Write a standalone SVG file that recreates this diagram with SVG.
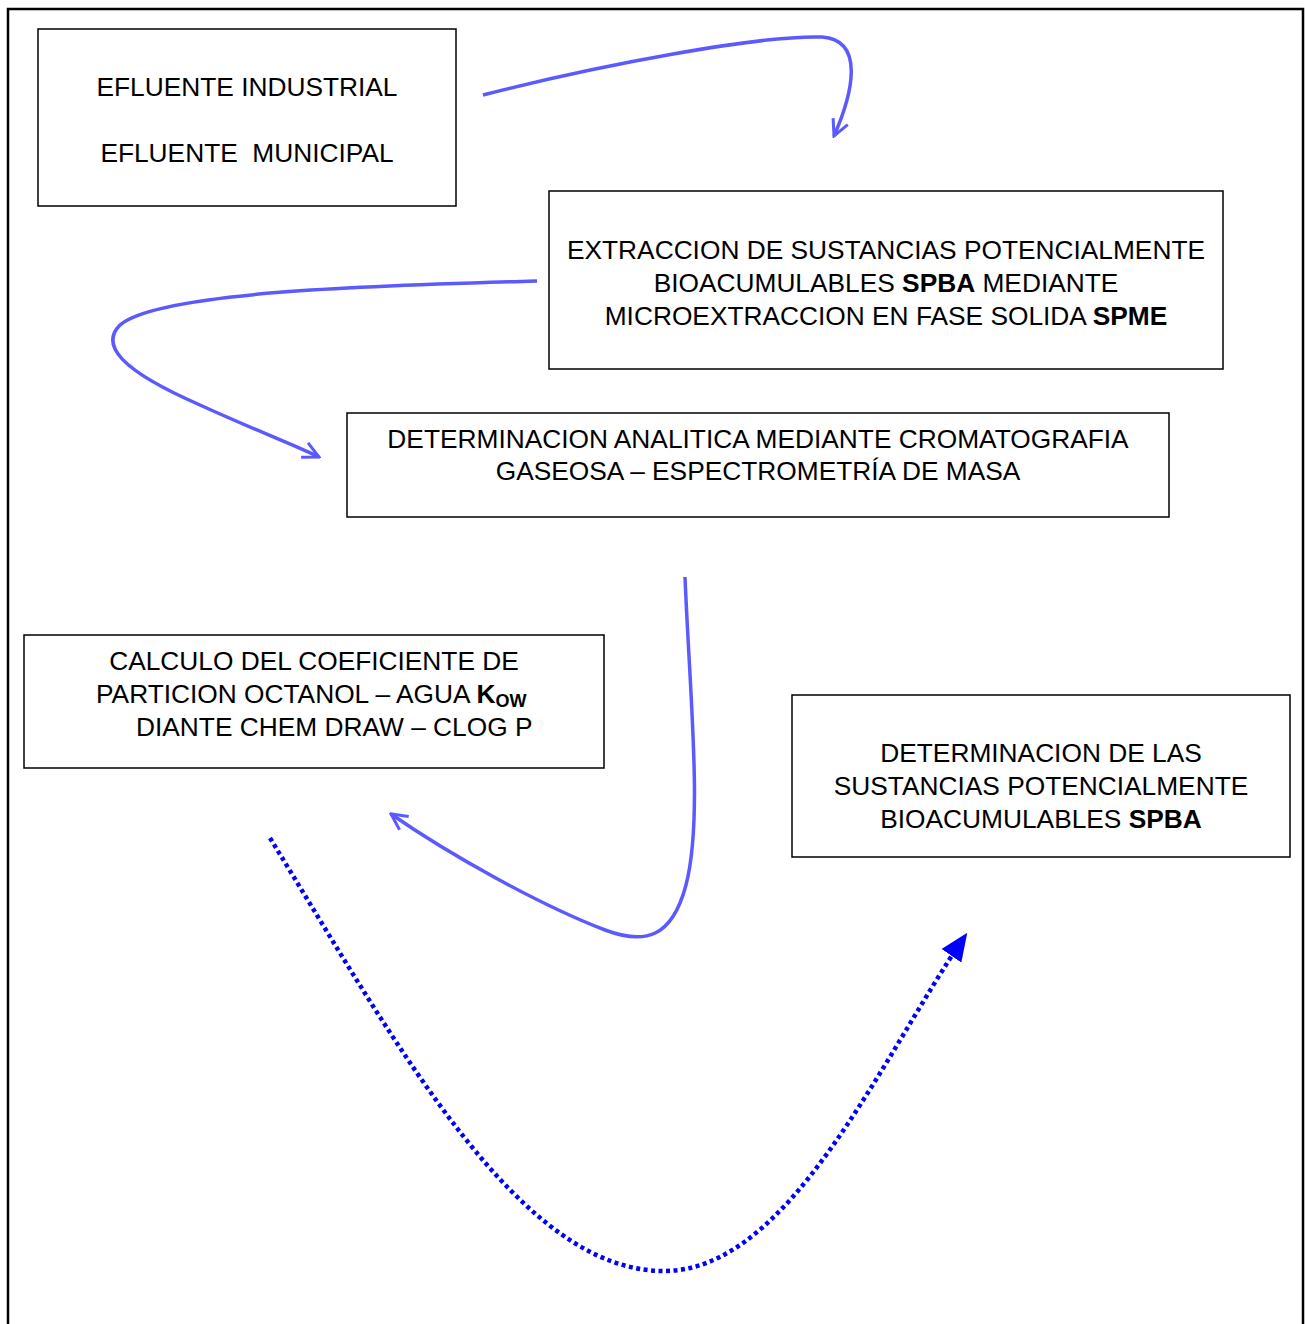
<svg xmlns="http://www.w3.org/2000/svg" width="1305" height="1324" viewBox="0 0 1305 1324">
<style>
.box{fill:#fff;stroke:#000;stroke-width:1.5}
.t{font-family:"Liberation Sans",Arial,sans-serif;font-size:26.3px;fill:#000}
.b{font-weight:bold}
.c{fill:none;stroke:#5a5aff;stroke-width:3.5}
.d{fill:none;stroke:#0000ff;stroke-width:4.5;stroke-dasharray:4 3.5}
</style>
<defs>
<marker id="open" markerUnits="userSpaceOnUse" viewBox="0 0 20 20" refX="18" refY="10" markerWidth="20" markerHeight="20" orient="auto">
<path d="M2,2 L18,10 L2,18" fill="none" stroke="#5a5aff" stroke-width="3"/>
</marker>
<marker id="tri" markerUnits="userSpaceOnUse" viewBox="0 0 28 24" refX="24" refY="12" markerWidth="28" markerHeight="24" orient="auto">
<path d="M0,0 L28,12 L0,24 Z" fill="#0000ff"/>
</marker>
</defs>
<rect width="1305" height="1324" fill="#fff"/>
<path d="M8,1324 L8,9 L1303,9 L1303,1324" fill="none" stroke="#000" stroke-width="2.5"/>
<g id="connectors">
<path class="c" marker-end="url(#open)" d="M483,95 C600,65 760,35 822,37 C866,40 852,95 834,136"/>
<path class="c" marker-end="url(#open)" d="M537,281 C400,285 160,290 120,325 C100,345 120,370 200,405 C250,428 290,443 319,457"/>
<path class="c" marker-end="url(#open)" d="M685,577 C690,700 703,820 686,885 C672,938 645,945 605,930 C540,905 450,855 391,814"/>
<path class="d" marker-end="url(#tri)" d="M270,838 C400,1050 520,1272 665,1271 C790,1270 880,1060 965,936"/>
</g>
<g id="n1">
<rect class="box" x="38" y="29" width="418" height="177"/>
<text class="t" x="247" y="96" text-anchor="middle">EFLUENTE INDUSTRIAL</text>
<text class="t" x="247" y="162" text-anchor="middle" xml:space="preserve">EFLUENTE  MUNICIPAL</text>
</g>
<g id="n2">
<rect class="box" x="549" y="191" width="674" height="178"/>
<text class="t" x="886" y="259" text-anchor="middle">EXTRACCION DE SUSTANCIAS POTENCIALMENTE</text>
<text class="t" x="886" y="292" text-anchor="middle">BIOACUMULABLES <tspan class="b">SPBA</tspan> MEDIANTE</text>
<text class="t" x="886" y="325" text-anchor="middle">MICROEXTRACCION EN FASE SOLIDA <tspan class="b">SPME</tspan></text>
</g>
<g id="n3">
<rect class="box" x="347" y="413" width="822" height="104"/>
<text class="t" x="758" y="448" text-anchor="middle">DETERMINACION ANALITICA MEDIANTE CROMATOGRAFIA</text>
<text class="t" x="758" y="480" text-anchor="middle">GASEOSA – ESPECTROMETRÍA DE MASA</text>
</g>
<g id="n4">
<rect class="box" x="24" y="635" width="580" height="133"/>
<text class="t" x="314" y="670" text-anchor="middle">CALCULO DEL COEFICIENTE DE</text>
<text class="t" x="96" y="703">PARTICION OCTANOL – AGUA <tspan class="b">K</tspan><tspan class="b" font-size="18" dy="4">OW</tspan></text>
<text class="t" x="136" y="736">DIANTE CHEM DRAW – CLOG P</text>
</g>
<g id="n5">
<rect class="box" x="792" y="695" width="498" height="162"/>
<text class="t" x="1041" y="762" text-anchor="middle">DETERMINACION DE LAS</text>
<text class="t" x="1041" y="795" text-anchor="middle">SUSTANCIAS POTENCIALMENTE</text>
<text class="t" x="1041" y="828" text-anchor="middle">BIOACUMULABLES <tspan class="b">SPBA</tspan></text>
</g>
</svg>
